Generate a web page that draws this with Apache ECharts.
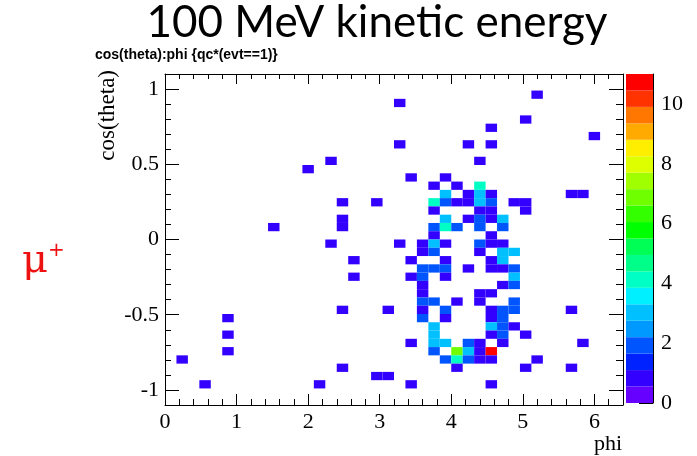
<!DOCTYPE html>
<html>
<head>
<meta charset="utf-8">
<script src="https://cdn.jsdelivr.net/npm/echarts@6/dist/echarts.min.js"></script>
<style>
  html, body { margin: 0; padding: 0; background: #ffffff; }
  #chart { width: 697px; height: 456px; }
</style>
</head>
<body>
<div id="chart"></div>
<script>
// Binning of the 2D histogram cos(theta) vs phi
const PHI_MIN = 0, PHI_MAX = 6.4, PHI_BINS = 40;
const COS_MIN = -1.1, COS_MAX = 1.1, COS_BINS = 40;

// Filled bins, listed row by row (cos(theta) bin index, then phi bin indices and entries)
const cosRowBins = [37, 36, 34, 33, 32, 31, 29, 28, 27, 26, 25, 24, 23, 22, 21, 20, 19,
                    18, 17, 16, 15, 14, 13, 12, 11, 10, 9, 8, 7, 6, 5, 4, 3, 2];
const phiBinsPerRow = [
  [32], [20], [31], [28], [37],
  [20, 26, 28],
  [14, 27],
  [12],
  [21, 24],
  [23, 25, 27],
  [24, 26, 27, 28, 35, 36],
  [15, 18, 23, 24, 25, 26, 27, 28, 30, 31],
  [23, 27, 28, 31],
  [15, 24, 26, 27, 28, 29],
  [9, 15, 23, 24, 25, 27, 29],
  [23, 28],
  [14, 20, 22, 23, 24, 27, 28, 29],
  [22, 23, 27, 29, 30],
  [16, 21, 24, 28, 29],
  [22, 23, 24, 26, 28, 29, 30],
  [16, 21, 22, 24, 30],
  [22, 29, 30],
  [22, 27, 28],
  [22, 23, 25, 27, 30],
  [15, 19, 22, 24, 28, 29, 30, 35],
  [5, 22, 24, 28, 29],
  [23, 28, 29, 30],
  [5, 23, 28, 29, 31],
  [21, 23, 24, 26, 27, 29, 36],
  [5, 23, 25, 26, 27, 28],
  [1, 24, 25, 26, 27, 28, 32],
  [15, 25, 31, 35],
  [18, 19],
  [3, 13, 21, 28]
];
const entriesPerRow = [
  [1], [1], [1], [1], [1],
  [1, 1, 1],
  [1, 1],
  [1],
  [1, 1],
  [1, 1, 4],
  [3, 1, 3, 1, 1, 1],
  [1, 1, 4, 2, 1, 1, 3, 2, 1, 1],
  [1, 1, 1, 1],
  [1, 3, 1, 2, 1, 3],
  [1, 1, 2, 4, 2, 2, 2],
  [1, 1],
  [1, 1, 1, 3, 1, 2, 1, 1],
  [1, 2, 1, 3, 3],
  [1, 1, 1, 1, 3],
  [2, 2, 2, 1, 1, 1, 2],
  [1, 1, 2, 1, 3],
  [1, 1, 2],
  [1, 1, 1],
  [2, 2, 1, 1, 2],
  [1, 1, 1, 2, 1, 2, 2, 1],
  [1, 2, 1, 1, 2],
  [3, 3, 2, 1],
  [1, 3, 1, 2, 1],
  [1, 3, 3, 2, 1, 1, 1],
  [1, 2, 7, 3, 1, 11],
  [1, 2, 4, 2, 1, 1, 1],
  [1, 1, 1, 1],
  [1, 1],
  [1, 1, 1, 1]
];

// Axis ticks
const xMajorTicks = [0, 1, 2, 3, 4, 5, 6];
const yMajorTicks = [-1, -0.5, 0, 0.5, 1];
const zTicks = [0, 2, 4, 6, 8, 10];
const Z_MAX = 11;

// Colour palette of the z axis, bottom to top
const paletteColors = [
  '#6600ff', '#3300ff', '#0022ff', '#0055ff', '#0099ff',
  '#00c0ff', '#00f0ff', '#00ffc4', '#00ff88', '#00ff55',
  '#00ff00', '#33ff00', '#70ff00', '#a0ff00', '#ddff00',
  '#ffee00', '#ffaa00', '#ff7700', '#ff3300', '#ff0000'
];

const dPhi = (PHI_MAX - PHI_MIN) / PHI_BINS;
const dCos = (COS_MAX - COS_MIN) / COS_BINS;
const r6 = v => Math.round(v * 1e6) / 1e6;

const xMinorTicks = [];
for (let k = 0; k <= 32; k++) xMinorTicks.push(r6(k * 0.2));
const yMinorTicks = [];
for (let k = -11; k <= 11; k++) yMinorTicks.push(r6(k * 0.1));

// [phi low edge, cos low edge, entries]
const cells = [];
cosRowBins.forEach((j, r) => {
  phiBinsPerRow[r].forEach((i, c) => {
    cells.push([r6(PHI_MIN + i * dPhi), r6(COS_MIN + j * dCos), entriesPerRow[r][c]]);
  });
});

const nBands = paletteColors.length;
const bandWidth = Z_MAX / nBands;
const bands = paletteColors.map((c, k) => [r6(k * bandWidth), r6((k + 1) * bandWidth), k]);
const pieces = paletteColors.map((c, k) => (
  k === nBands - 1
    ? { gte: r6(k * bandWidth), lte: Z_MAX + 1, color: c }
    : { gte: r6(k * bandWidth), lt: r6((k + 1) * bandWidth), color: c }
));

const SERIF = '"Liberation Serif", "Times New Roman", serif';
const black = '#000000';

function frameLine() {
  return { show: true, onZero: false, lineStyle: { color: black, width: 1 } };
}

function tickAxis(base) {
  return Object.assign({
    type: 'value',
    gridIndex: 0,
    splitLine: { show: false },
    axisLine: { show: false, onZero: false },
    axisLabel: { show: false },
    axisTick: { show: false }
  }, base);
}

const xAxes = [
  tickAxis({ min: PHI_MIN, max: PHI_MAX, position: 'bottom',
    axisLine: frameLine(),
    axisTick: { show: true, inside: true, length: 11, customValues: xMajorTicks, lineStyle: { color: black, width: 1 } },
    axisLabel: { show: true, customValues: xMajorTicks, margin: 6, color: black, fontFamily: SERIF, fontSize: 22 } }),
  tickAxis({ min: PHI_MIN, max: PHI_MAX, position: 'bottom',
    axisTick: { show: true, inside: true, length: 6, customValues: xMinorTicks, lineStyle: { color: black, width: 1 } } }),
  tickAxis({ min: PHI_MIN, max: PHI_MAX, position: 'top',
    axisLine: frameLine(),
    axisTick: { show: true, inside: true, length: 10, customValues: xMajorTicks, lineStyle: { color: black, width: 1 } } }),
  tickAxis({ min: PHI_MIN, max: PHI_MAX, position: 'top',
    axisTick: { show: true, inside: true, length: 5, customValues: xMinorTicks, lineStyle: { color: black, width: 1 } } }),
  tickAxis({ gridIndex: 1, min: 0, max: 1, show: false })
];

const yAxes = [
  tickAxis({ min: COS_MIN, max: COS_MAX, position: 'left',
    axisLine: frameLine(),
    axisTick: { show: true, inside: true, length: 14, customValues: yMajorTicks, lineStyle: { color: black, width: 1 } },
    axisLabel: { show: true, customValues: yMajorTicks, margin: 6, color: black, fontFamily: SERIF, fontSize: 22 } }),
  tickAxis({ min: COS_MIN, max: COS_MAX, position: 'left',
    axisTick: { show: true, inside: true, length: 6, customValues: yMinorTicks, lineStyle: { color: black, width: 1 } } }),
  tickAxis({ min: COS_MIN, max: COS_MAX, position: 'right',
    axisLine: frameLine(),
    axisTick: { show: true, inside: true, length: 14, customValues: yMajorTicks, lineStyle: { color: black, width: 1 } } }),
  tickAxis({ min: COS_MIN, max: COS_MAX, position: 'right',
    axisTick: { show: true, inside: true, length: 7, customValues: yMinorTicks, lineStyle: { color: black, width: 1 } } }),
  tickAxis({ gridIndex: 1, min: 0, max: Z_MAX, position: 'right',
    axisLine: frameLine(),
    axisTick: { show: true, inside: true, length: 14, customValues: zTicks, lineStyle: { color: black, width: 1 } },
    axisLabel: { show: true, customValues: zTicks, margin: 8, color: black, fontFamily: SERIF, fontSize: 22 } })
];

const chart = echarts.init(document.getElementById('chart'), null, { renderer: 'canvas' });

chart.setOption({
  animation: false,
  backgroundColor: '#ffffff',
  grid: [
    { left: 165, top: 74, width: 458, height: 331 },
    { left: 626, top: 74, width: 27, height: 329 }
  ],
  xAxis: xAxes,
  yAxis: yAxes,
  visualMap: {
    type: 'piecewise',
    show: false,
    seriesIndex: 0,
    dimension: 2,
    pieces: pieces
  },
  series: [
    {
      type: 'custom',
      xAxisIndex: 0,
      yAxisIndex: 0,
      encode: { x: 0, y: 1 },
      data: cells,
      renderItem: function (params, api) {
        const p0 = api.coord([api.value(0), api.value(1) + dCos]);
        const p1 = api.coord([api.value(0) + dPhi, api.value(1)]);
        return {
          type: 'rect',
          shape: { x: p0[0], y: p0[1], width: p1[0] - p0[0], height: p1[1] - p0[1] },
          style: { fill: api.visual('color') }
        };
      }
    },
    {
      type: 'custom',
      xAxisIndex: 4,
      yAxisIndex: 4,
      encode: { y: [0, 1] },
      data: bands,
      renderItem: function (params, api) {
        const p0 = api.coord([0, api.value(1)]);
        const p1 = api.coord([1, api.value(0)]);
        return {
          type: 'rect',
          shape: { x: p0[0], y: p0[1], width: p1[0] - p0[0], height: p1[1] - p0[1] },
          style: { fill: paletteColors[api.value(2)] }
        };
      }
    }
  ],
  graphic: [
    {
      type: 'text', x: 377, y: 1,
      style: { text: '100 MeV kinetic energy', align: 'center', verticalAlign: 'top',
               fill: '#000000', font: '400 44px Lato, "Open Sans", sans-serif' }
    },
    {
      type: 'text', x: 95, y: 48,
      style: { text: 'cos(theta):phi {qc*(evt==1)}', align: 'left', verticalAlign: 'top',
               fill: '#000000', font: 'bold 14px "Liberation Sans", Arial, sans-serif' }
    },
    {
      type: 'text', x: 108, y: 70, rotation: Math.PI / 2,
      style: { text: 'cos(theta)', align: 'right', verticalAlign: 'middle',
               fill: '#000000', font: '23px "Liberation Serif", "Times New Roman", serif' }
    },
    {
      type: 'text', x: 622, y: 433,
      style: { text: 'phi', align: 'right', verticalAlign: 'top',
               fill: '#000000', font: '22px "Liberation Serif", "Times New Roman", serif' }
    },
    {
      type: 'text', x: 22, y: 262,
      style: {
        text: '{m|μ}{p|+}',
        align: 'left', verticalAlign: 'middle',
        rich: {
          m: { fontFamily: '"DejaVu Serif", "Liberation Serif", serif', fontSize: 40, fill: '#ee1111', color: '#ee1111' },
          p: { fontFamily: '"DejaVu Sans", sans-serif', fontSize: 20, fill: '#ee1111', color: '#ee1111', verticalAlign: 'top', padding: [0, 0, 22, 0] }
        }
      }
    }
  ]
});
</script>
</body>
</html>
